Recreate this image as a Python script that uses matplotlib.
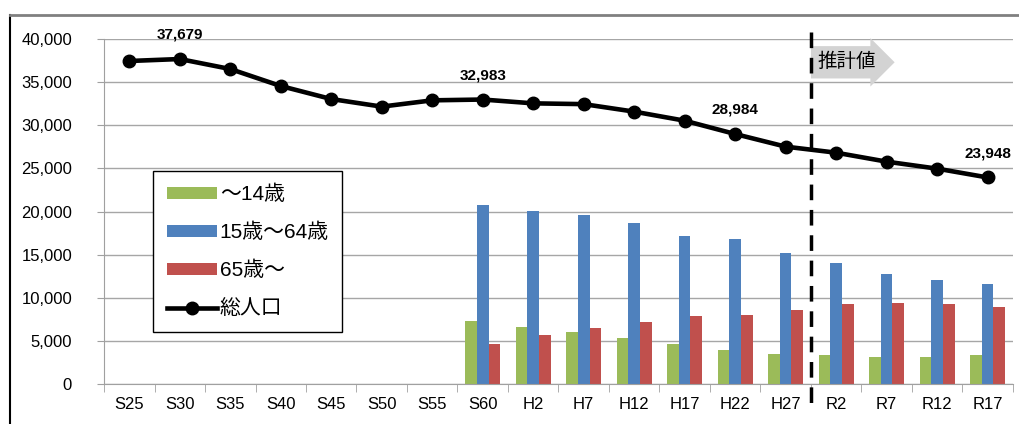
import numpy as np
import matplotlib.pyplot as plt
from matplotlib.lines import Line2D

plt.rcParams['font.family'] = ['Liberation Sans', 'Noto Sans CJK JP', 'DejaVu Sans']

# Data
years = ["S25", "S30", "S35", "S40", "S45", "S50", "S55", "S60", "H2", "H7",
         "H12", "H17", "H22", "H27", "R2", "R7", "R12", "R17"]
total = [37450, 37679, 36520, 34550, 33040, 32160, 32890, 32983, 32540, 32450,
         31580, 30530, 28984, 27520, 26820, 25780, 24970, 23948]
nan = np.nan
age0_14 = [nan] * 7 + [7340, 6650, 5990, 5330, 4640, 3980, 3480, 3320, 3130, 3130, 3320]
age15_64 = [nan] * 7 + [20750, 20060, 19560, 18700, 17200, 16850, 15150, 13990, 12790, 12090, 11590]
age65 = [nan] * 7 + [4640, 5680, 6530, 7190, 7880, 8040, 8540, 9240, 9390, 9240, 8890]
labelled = {"S30": "37,679", "S60": "32,983", "H22": "28,984", "R17": "23,948"}

fig = plt.figure(figsize=(10.2, 4.24), dpi=100)
ax = fig.add_axes([0.102, 0.0943, 0.891, 0.8137])

x = np.arange(len(years))
w = 0.23
b1 = ax.bar(x - w, age0_14, w, color="#9BBB59", label="～14歳", zorder=2)
b2 = ax.bar(x, age15_64, w, color="#4F81BD", label="15歳～64歳", zorder=2)
b3 = ax.bar(x + w, age65, w, color="#C0504D", label="65歳～", zorder=2)
ln, = ax.plot(x, total, color="black", lw=3.3, marker="o", markersize=9, label="総人口", zorder=4)

for i, y in enumerate(years):
    if y in labelled:
        ax.text(x[i], total[i] + 2000, labelled[y], ha="center", va="bottom",
                fontsize=11, fontweight="bold", zorder=5)

# axes styling
ax.set_xlim(-0.5, len(years) - 0.5)
ax.set_ylim(0, 40000)
ax.set_yticks(np.arange(0, 40001, 5000))
ax.set_yticklabels([f"{v:,}" for v in range(0, 40001, 5000)], fontsize=12)
ax.set_xticks(x)
ax.set_xticklabels(years, fontsize=12)
ax.set_xticks(np.arange(-0.5, len(years)), minor=True)
ax.tick_params(axis="x", which="major", length=0, pad=9)
ax.tick_params(axis="x", which="minor", length=6, color="#A0A0A0")
ax.tick_params(axis="y", length=5, color="#A0A0A0", pad=18)
ax.grid(axis="y", color="#A6A6A6", lw=1, zorder=0)
for s in ["top", "right"]:
    ax.spines[s].set_visible(False)
for s in ["left", "bottom"]:
    ax.spines[s].set_color("#A0A0A0")

# projection divider and arrow
ax.plot([13.5, 13.5], [1.02, -0.07], color="black", lw=2.5, dashes=(4.5, 2.8),
        transform=ax.get_xaxis_transform(), clip_on=False, zorder=5)
ax.text(13.64, 37300, "推計値", fontsize=14, ha="left", va="center", zorder=3,
        bbox=dict(boxstyle="rarrow,pad=0.36", fc="#D3D3D3", ec="none"))

leg = ax.legend([b1, b2, b3, ln], ["～14歳", "15歳～64歳", "65歳～", "総人口"],
                loc="upper left", bbox_to_anchor=(0.054, 0.617), borderaxespad=0,
                fontsize=15, frameon=True, fancybox=False, edgecolor="black",
                labelspacing=0.9, handlelength=2.4, handleheight=0.5,
                handletextpad=0.15, borderpad=0.65)
leg.get_frame().set_linewidth(1)
leg.get_frame().set_alpha(1)
leg.set_zorder(6)

# outer frame (cropped chart area)
fig.add_artist(Line2D([10 / 1020, 10 / 1020], [0, 1 - 15 / 424], color="black", lw=1.5))
fig.add_artist(Line2D([10 / 1020, 1], [1 - 15 / 424, 1 - 15 / 424], color="#808080", lw=2))

fig.savefig("out.png", dpi=100)
